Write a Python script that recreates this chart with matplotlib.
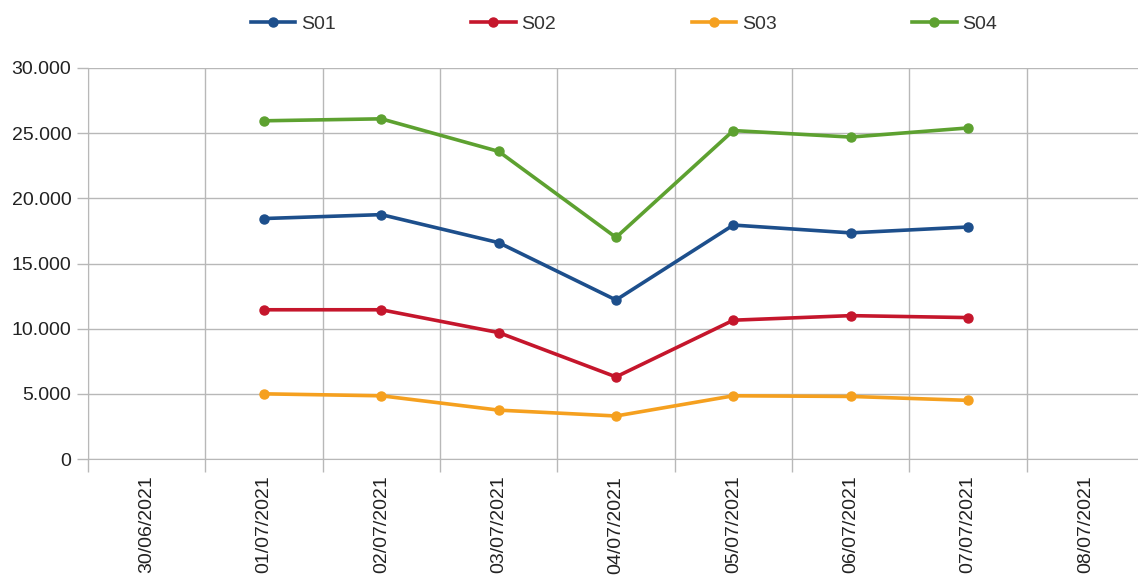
import numpy as np
import matplotlib.pyplot as plt
from matplotlib.ticker import FuncFormatter, MultipleLocator

# dates (categories) and series values
dates = ['30/06/2021', '01/07/2021', '02/07/2021', '03/07/2021', '04/07/2021',
         '05/07/2021', '06/07/2021', '07/07/2021', '08/07/2021']
s01 = [None, 18450, 18750, 16600, 12200, 17950, 17350, 17800, None]
s02 = [None, 11450, 11450, 9700, 6300, 10650, 11000, 10850, None]
s03 = [None, 5000, 4850, 3750, 3300, 4850, 4800, 4500, None]
s04 = [None, 25950, 26100, 23600, 17000, 25200, 24700, 25400, None]

series = {'S01': s01, 'S02': s02, 'S03': s03, 'S04': s04}
colors = {'S01': '#1d4f8c', 'S02': '#c5162c', 'S03': '#f5a01f', 'S04': '#5da130'}

plt.rcParams['font.family'] = ['Liberation Sans', 'DejaVu Sans']

fig = plt.figure(figsize=(11.38, 5.77), dpi=100)
ax = fig.add_axes([88 / 1138, 118 / 577, (1144 - 88) / 1138, (459 - 68) / 577])

x = np.arange(len(dates))
for name, vals in series.items():
    y = np.array([np.nan if v is None else v for v in vals], dtype=float)
    ax.plot(x, y, color=colors[name], lw=2.6, marker='o', ms=6.5, label=name,
            solid_joinstyle='round')

ax.set_xlim(-0.5, len(dates) - 0.5)
ax.set_ylim(0, 30000)
ax.yaxis.set_major_locator(MultipleLocator(5000))
ax.yaxis.set_major_formatter(FuncFormatter(lambda v, p: f'{int(v):,}'.replace(',', '.')))

ax.set_xticks(x)
ax.set_xticklabels(dates, rotation=90, va='top', ha='center')
ax.set_xticks(np.arange(-0.5, len(dates)), minor=True)

grid_c = '#b8b8b8'
ax.grid(True, axis='y', which='major', color=grid_c, lw=1)
ax.grid(True, axis='x', which='minor', color=grid_c, lw=1)
ax.grid(False, axis='x', which='major')
ax.tick_params(axis='x', which='major', length=0, pad=12, labelsize=14, labelcolor='#222222')
ax.tick_params(axis='x', which='minor', length=9, color=grid_c, width=1)
ax.tick_params(axis='y', length=8, color=grid_c, width=1, labelsize=14,
               labelcolor='#222222', pad=4)
for side, sp in ax.spines.items():
    sp.set_visible(side in ('left', 'bottom'))
    sp.set_color(grid_c)
ax.set_axisbelow(True)

fig.legend(loc='center', bbox_to_anchor=(624 / 1138, 1 - 24 / 577), ncol=4,
           frameon=False, fontsize=14, handlelength=2.3, handletextpad=0.3,
           columnspacing=6.95, labelcolor='#333333')

fig.savefig('out.png', dpi=100)
